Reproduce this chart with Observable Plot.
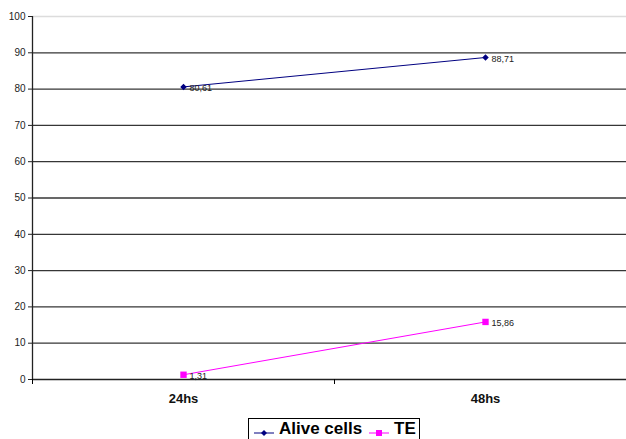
<!DOCTYPE html>
<html>
<head>
<meta charset="utf-8">
<script src="https://cdn.jsdelivr.net/npm/d3@7"></script>
<script src="https://cdn.jsdelivr.net/npm/@observablehq/plot@0.6"></script>
<style>
  html, body { margin: 0; padding: 0; background: #fff; overflow: hidden; }
  #wrap { position: relative; width: 626px; height: 439px; font-family: "Liberation Sans", Arial, sans-serif; }
  #legend { position: absolute; left: 248px; top: 418px; width: 172px; height: 30px; border: 1px solid #000; background: #fff; box-sizing: border-box; }
  .item { position: absolute; top: 0px; font-weight: bold; font-size: 17px; color: #000; white-space: nowrap; }
  .item svg { position: absolute; top: 9px; }
</style>
</head>
<body>
<div id="wrap">
  <div id="chart"></div>
  <div id="legend"></div>
</div>
<script>
const categories = ["24hs", "48hs"];
const aliveCells = [80.61, 88.71];
const te = [1.31, 15.86];
const seriesNames = ["Alive cells", "TE"];
const seriesColors = ["#000080", "#FF00FF"];
const seriesSymbols = ["diamond", "square"];
const yTicks = [0, 10, 20, 30, 40, 50, 60, 70, 80, 90, 100];

const data = [];
[aliveCells, te].forEach((vals, s) => {
  vals.forEach((v, i) => data.push({series: seriesNames[s], pos: i + 0.5, cat: categories[i], value: v}));
});
const fmt = v => v.toFixed(2).replace(".", ",");

const plot = Plot.plot({
  width: 626,
  height: 415,
  marginLeft: 32,
  marginTop: 16,
  marginBottom: 36,
  marginRight: 0,
  style: {fontFamily: "'Liberation Sans', Arial, sans-serif", background: "#fff", overflow: "hidden"},
  x: {domain: [0, categories.length], range: [32, 636]},
  y: {domain: [0, 100]},
  marks: [
    Plot.ruleY(yTicks.filter(t => t > 0 && t < 100), {x1: 0, x2: categories.length, stroke: "#363636", strokeWidth: 1.3}),
    Plot.ruleY([100], {x1: 0, x2: categories.length, stroke: "#dcdcdc", strokeWidth: 1.5}),
    Plot.ruleY([0], {x1: 0, x2: categories.length, stroke: "#222", strokeWidth: 1.3}),
    Plot.ruleX([0], {y1: 0, y2: 100, stroke: "#222", strokeWidth: 1.3}),
    Plot.axisY({ticks: yTicks, tickSize: 4, tickPadding: 3, fontSize: 10, color: "#222", label: null}),
    Plot.axisX({ticks: d3.range(categories.length + 1), tickSize: 5, tickFormat: () => "", label: null, stroke: "#000"}),
    Plot.axisX({ticks: categories.map((c, i) => i + 0.5), tickSize: 0, tickPadding: 14, tickFormat: d => categories[d - 0.5], fontSize: 13, fontWeight: "bold", color: "#111", label: null}),
    Plot.line(data, {x: "pos", y: "value", z: "series", stroke: d => seriesColors[seriesNames.indexOf(d.series)], strokeWidth: 1}),
    Plot.dot(data.filter(d => d.series === seriesNames[0]), {x: "pos", y: "value", symbol: "square", rotate: 45, r: 2.6, fill: seriesColors[0], stroke: "none"}),
    Plot.dot(data.filter(d => d.series === seriesNames[1]), {x: "pos", y: "value", symbol: "square", r: 3.6, fill: seriesColors[1], stroke: "none"}),
    Plot.text(data, {x: "pos", y: "value", text: d => fmt(d.value), dx: 6, dy: 1.5, textAnchor: "start", fontSize: 9, fill: "#222"})
  ]
});
document.getElementById("chart").appendChild(plot);

const legend = document.getElementById("legend");
const offsets = [5, 120];
seriesNames.forEach((name, i) => {
  const item = document.createElement("div");
  item.className = "item";
  item.style.left = offsets[i] + "px";
  const marker = seriesSymbols[i] === "diamond"
    ? `<path d="M10,-3L13,0L10,3L7,0Z" fill="${seriesColors[i]}"/>`
    : `<rect x="7" y="-3" width="6" height="6" fill="${seriesColors[i]}"/>`;
  item.innerHTML = `<svg width="22" height="10" viewBox="0 -5 22 10" style="left:0"><line x1="0" x2="20" y1="0" y2="0" stroke="${seriesColors[i]}" stroke-width="1"/>${marker}</svg><span style="margin-left:25px">${name}</span>`;
  legend.appendChild(item);
});
</script>
</body>
</html>
